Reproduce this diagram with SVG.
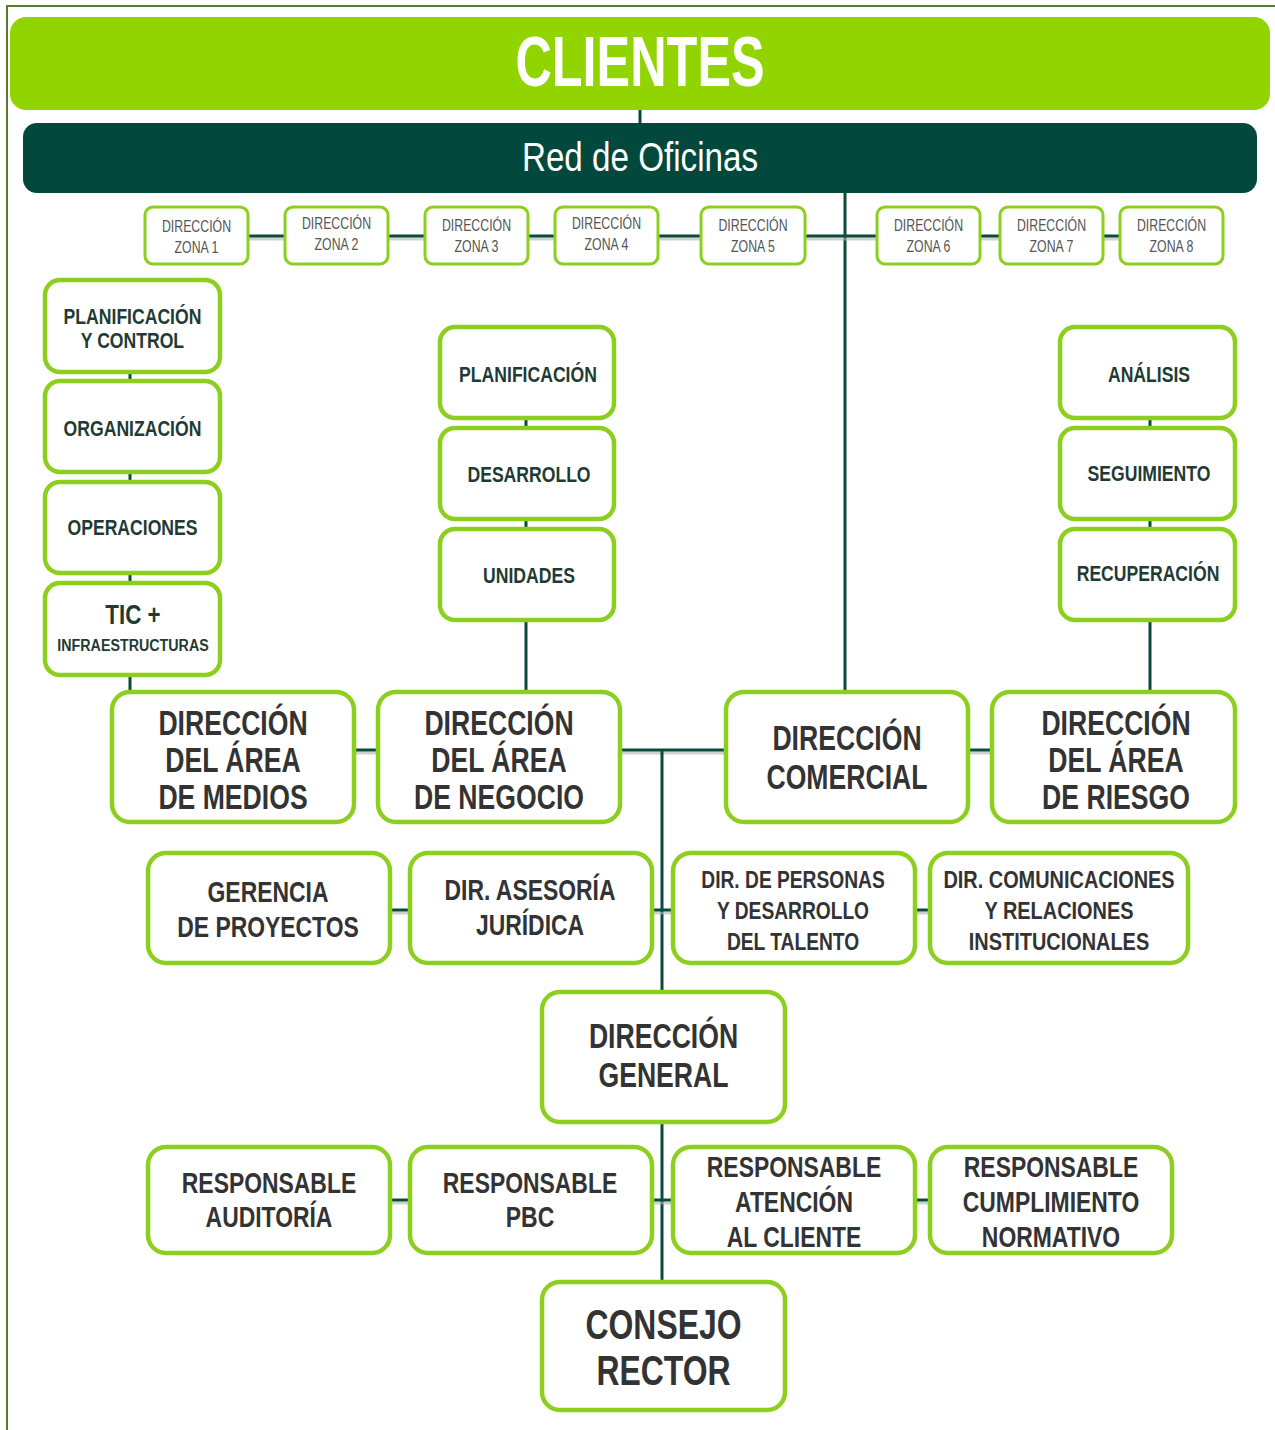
<svg xmlns="http://www.w3.org/2000/svg" width="1275" height="1430" viewBox="0 0 1275 1430">
<style>
text{font-family:"Liberation Sans",Arial,sans-serif;text-anchor:middle}
.box{fill:#fff;stroke:#8dcf1e;stroke-width:4.5}
.zbox{fill:#fff;stroke:#8dcf1e;stroke-width:3}
.conn{stroke:#0b4a3e;stroke-width:3;fill:none}
.shadow{stroke:#aeb4ae;stroke-width:3;fill:none;opacity:.6}
.tb{font-weight:bold;font-size:35px;fill:#333}
.tm{font-weight:bold;font-size:29px;fill:#333}
.ts{font-weight:bold;font-size:24px;fill:#333}
.tc{font-weight:bold;font-size:42px;fill:#333}
.tsub{font-weight:bold;font-size:22px;fill:#1f3b33}
.tz{font-size:16px;fill:#555}
</style>
<rect width="1275" height="1430" fill="#fff"/>
<path d="M7 1430 V6 H1275" fill="none" stroke="#5b7a2a" stroke-width="2"/>

<g id="connectors">
<line class="conn" x1="640" y1="108" x2="640" y2="125"/>
<line class="conn" x1="845" y1="192" x2="845" y2="692"/>
<line class="shadow" x1="248" y1="239" x2="1120" y2="239"/>
<line class="conn" x1="248" y1="236" x2="1120" y2="236"/>
<line class="conn" x1="130" y1="372" x2="130" y2="692"/>
<line class="conn" x1="526" y1="418" x2="526" y2="692"/>
<line class="conn" x1="1150" y1="418" x2="1150" y2="692"/>
<line class="shadow" x1="354" y1="753" x2="992" y2="753"/>
<line class="conn" x1="354" y1="750" x2="992" y2="750"/>
<line class="conn" x1="662" y1="750" x2="662" y2="1282"/>
<line class="shadow" x1="390" y1="913" x2="930" y2="913"/>
<line class="conn" x1="390" y1="910" x2="930" y2="910"/>
<line class="shadow" x1="390" y1="1203" x2="930" y2="1203"/>
<line class="conn" x1="390" y1="1200" x2="930" y2="1200"/>
</g>

<g id="clientes">
<rect x="10" y="17" width="1260" height="93" rx="16" fill="#92d400"/>
<text transform="translate(640,86) scale(0.71,1)" style="font-size:71px;font-weight:bold" fill="#fff">CLIENTES</text>
</g>
<g id="red-oficinas">
<rect x="23" y="123" width="1234" height="70" rx="14" fill="#02483d"/>
<text transform="translate(640,171) scale(0.83,1)" style="font-size:40px" fill="#fff">Red de Oficinas</text>
</g>

<g id="zona1"><rect class="zbox" x="145" y="207" width="103" height="57" rx="8"/><text class="tz" transform="translate(196.5,232) scale(0.77,1)"><tspan x="0" y="0">DIRECCIÓN</tspan><tspan x="0" y="21">ZONA 1</tspan></text></g>
<g id="zona2"><rect class="zbox" x="285" y="207" width="103" height="57" rx="8"/><text class="tz" transform="translate(336.5,229) scale(0.77,1)"><tspan x="0" y="0">DIRECCIÓN</tspan><tspan x="0" y="21">ZONA 2</tspan></text></g>
<g id="zona3"><rect class="zbox" x="425" y="207" width="103" height="57" rx="8"/><text class="tz" transform="translate(476.5,231) scale(0.77,1)"><tspan x="0" y="0">DIRECCIÓN</tspan><tspan x="0" y="21">ZONA 3</tspan></text></g>
<g id="zona4"><rect class="zbox" x="555" y="207" width="103" height="57" rx="8"/><text class="tz" transform="translate(606.5,229) scale(0.77,1)"><tspan x="0" y="0">DIRECCIÓN</tspan><tspan x="0" y="21">ZONA 4</tspan></text></g>
<g id="zona5"><rect class="zbox" x="701" y="207" width="104" height="57" rx="8"/><text class="tz" transform="translate(753,231) scale(0.77,1)"><tspan x="0" y="0">DIRECCIÓN</tspan><tspan x="0" y="21">ZONA 5</tspan></text></g>
<g id="zona6"><rect class="zbox" x="877" y="207" width="103" height="57" rx="8"/><text class="tz" transform="translate(928.5,231) scale(0.77,1)"><tspan x="0" y="0">DIRECCIÓN</tspan><tspan x="0" y="21">ZONA 6</tspan></text></g>
<g id="zona7"><rect class="zbox" x="1000" y="207" width="103" height="57" rx="8"/><text class="tz" transform="translate(1051.5,231) scale(0.77,1)"><tspan x="0" y="0">DIRECCIÓN</tspan><tspan x="0" y="21">ZONA 7</tspan></text></g>
<g id="zona8"><rect class="zbox" x="1120" y="207" width="103" height="57" rx="8"/><text class="tz" transform="translate(1171.5,231) scale(0.77,1)"><tspan x="0" y="0">DIRECCIÓN</tspan><tspan x="0" y="21">ZONA 8</tspan></text></g>

<g id="planificacion-control"><rect class="box" x="45" y="280" width="175" height="92" rx="15"/><text class="tsub" transform="translate(132.5,324) scale(0.8,1)"><tspan x="0" y="0">PLANIFICACIÓN</tspan><tspan x="0" y="24">Y CONTROL</tspan></text></g>
<g id="organizacion"><rect class="box" x="45" y="381" width="175" height="91" rx="15"/><text class="tsub" transform="translate(132.5,436) scale(0.8,1)">ORGANIZACIÓN</text></g>
<g id="operaciones"><rect class="box" x="45" y="482" width="175" height="91" rx="15"/><text class="tsub" transform="translate(132.5,535) scale(0.8,1)">OPERACIONES</text></g>
<g id="tic"><rect class="box" x="45" y="583" width="175" height="92" rx="15"/><text class="tsub" transform="translate(133,624) scale(0.8,1)" style="font-size:28px">TIC +</text><text class="tsub" transform="translate(133,651) scale(0.84,1)" style="font-size:17px">INFRAESTRUCTURAS</text></g>

<g id="planificacion"><rect class="box" x="440" y="327" width="174" height="91" rx="15"/><text class="tsub" transform="translate(528,382) scale(0.8,1)">PLANIFICACIÓN</text></g>
<g id="desarrollo"><rect class="box" x="440" y="428" width="174" height="91" rx="15"/><text class="tsub" transform="translate(529,482) scale(0.8,1)">DESARROLLO</text></g>
<g id="unidades"><rect class="box" x="440" y="529" width="174" height="91" rx="15"/><text class="tsub" transform="translate(529,583) scale(0.8,1)">UNIDADES</text></g>

<g id="analisis"><rect class="box" x="1060" y="327" width="175" height="91" rx="15"/><text class="tsub" transform="translate(1149,382) scale(0.8,1)">ANÁLISIS</text></g>
<g id="seguimiento"><rect class="box" x="1060" y="428" width="175" height="91" rx="15"/><text class="tsub" transform="translate(1149,481) scale(0.8,1)">SEGUIMIENTO</text></g>
<g id="recuperacion"><rect class="box" x="1060" y="529" width="175" height="91" rx="15"/><text class="tsub" transform="translate(1148,581) scale(0.8,1)">RECUPERACIÓN</text></g>

<g id="dir-medios"><rect class="box" x="112" y="692" width="242" height="130" rx="18"/><text class="tb" transform="translate(233,735) scale(0.76,1)"><tspan x="0" y="0">DIRECCIÓN</tspan><tspan x="0" y="37">DEL ÁREA</tspan><tspan x="0" y="74">DE MEDIOS</tspan></text></g>
<g id="dir-negocio"><rect class="box" x="378" y="692" width="242" height="130" rx="18"/><text class="tb" transform="translate(499,735) scale(0.76,1)"><tspan x="0" y="0">DIRECCIÓN</tspan><tspan x="0" y="37">DEL ÁREA</tspan><tspan x="0" y="74">DE NEGOCIO</tspan></text></g>
<g id="dir-comercial"><rect class="box" x="726" y="692" width="242" height="130" rx="18"/><text class="tb" transform="translate(847,750) scale(0.76,1)"><tspan x="0" y="0">DIRECCIÓN</tspan><tspan x="0" y="39">COMERCIAL</tspan></text></g>
<g id="dir-riesgo"><rect class="box" x="992" y="692" width="243" height="130" rx="18"/><text class="tb" transform="translate(1116,735) scale(0.76,1)"><tspan x="0" y="0">DIRECCIÓN</tspan><tspan x="0" y="37">DEL ÁREA</tspan><tspan x="0" y="74">DE RIESGO</tspan></text></g>

<g id="gerencia-proyectos"><rect class="box" x="148" y="853" width="242" height="110" rx="18"/><text class="tm" transform="translate(268,902) scale(0.79,1)"><tspan x="0" y="0">GERENCIA</tspan><tspan x="0" y="35">DE PROYECTOS</tspan></text></g>
<g id="asesoria-juridica"><rect class="box" x="410" y="853" width="242" height="110" rx="18"/><text class="tm" transform="translate(530,900) scale(0.79,1)"><tspan x="0" y="0">DIR. ASESORÍA</tspan><tspan x="0" y="35">JURÍDICA</tspan></text></g>
<g id="personas-talento"><rect class="box" x="673" y="853" width="242" height="110" rx="18"/><text class="ts" transform="translate(793,888) scale(0.8,1)"><tspan x="0" y="0">DIR. DE PERSONAS</tspan><tspan x="0" y="31">Y DESARROLLO</tspan><tspan x="0" y="62">DEL TALENTO</tspan></text></g>
<g id="comunicaciones"><rect class="box" x="930" y="853" width="258" height="110" rx="18"/><text class="ts" transform="translate(1059,888) scale(0.83,1)"><tspan x="0" y="0">DIR. COMUNICACIONES</tspan><tspan x="0" y="31">Y RELACIONES</tspan><tspan x="0" y="62">INSTITUCIONALES</tspan></text></g>

<g id="direccion-general"><rect class="box" x="542" y="992" width="243" height="130" rx="18"/><text class="tb" transform="translate(663.5,1048) scale(0.76,1)"><tspan x="0" y="0">DIRECCIÓN</tspan><tspan x="0" y="39">GENERAL</tspan></text></g>

<g id="resp-auditoria"><rect class="box" x="148" y="1147" width="242" height="106" rx="18"/><text class="tm" transform="translate(269,1193) scale(0.79,1)"><tspan x="0" y="0">RESPONSABLE</tspan><tspan x="0" y="34">AUDITORÍA</tspan></text></g>
<g id="resp-pbc"><rect class="box" x="410" y="1147" width="242" height="106" rx="18"/><text class="tm" transform="translate(530,1193) scale(0.79,1)"><tspan x="0" y="0">RESPONSABLE</tspan><tspan x="0" y="34">PBC</tspan></text></g>
<g id="resp-atencion"><rect class="box" x="673" y="1147" width="242" height="106" rx="18"/><text class="tm" transform="translate(794,1177) scale(0.79,1)"><tspan x="0" y="0">RESPONSABLE</tspan><tspan x="0" y="35">ATENCIÓN</tspan><tspan x="0" y="70">AL CLIENTE</tspan></text></g>
<g id="resp-cumplimiento"><rect class="box" x="930" y="1147" width="242" height="106" rx="18"/><text class="tm" transform="translate(1051,1177) scale(0.79,1)"><tspan x="0" y="0">RESPONSABLE</tspan><tspan x="0" y="35">CUMPLIMIENTO</tspan><tspan x="0" y="70">NORMATIVO</tspan></text></g>

<g id="consejo-rector"><rect class="box" x="542" y="1282" width="243" height="128" rx="18"/><text class="tc" transform="translate(663.5,1339) scale(0.76,1)"><tspan x="0" y="0">CONSEJO</tspan><tspan x="0" y="46">RECTOR</tspan></text></g>
</svg>
